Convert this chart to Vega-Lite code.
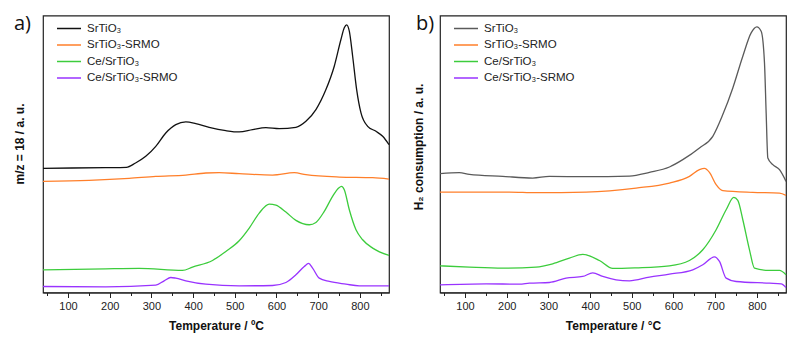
{
  "$schema": "https://vega.github.io/schema/vega-lite/v6.json",
  "background": "white",
  "padding": {"left": 12, "top": 12.5, "right": 0, "bottom": 0},
  "spacing": 18,
  "datasets": {
    "a": [
      {"T": 40, "v": 372, "series": "SrTiO₃"},
      {"T": 110, "v": 373, "series": "SrTiO₃"},
      {"T": 190, "v": 374, "series": "SrTiO₃"},
      {"T": 240, "v": 375, "series": "SrTiO₃"},
      {"T": 262, "v": 388, "series": "SrTiO₃"},
      {"T": 286.5, "v": 408, "series": "SrTiO₃"},
      {"T": 310.5, "v": 438, "series": "SrTiO₃"},
      {"T": 334.5, "v": 478, "series": "SrTiO₃"},
      {"T": 358.6, "v": 503, "series": "SrTiO₃"},
      {"T": 382.6, "v": 511, "series": "SrTiO₃"},
      {"T": 406.6, "v": 506, "series": "SrTiO₃"},
      {"T": 438.6, "v": 495, "series": "SrTiO₃"},
      {"T": 478.6, "v": 485, "series": "SrTiO₃"},
      {"T": 510.6, "v": 481, "series": "SrTiO₃"},
      {"T": 542.7, "v": 488, "series": "SrTiO₃"},
      {"T": 574.7, "v": 494, "series": "SrTiO₃"},
      {"T": 606.7, "v": 491, "series": "SrTiO₃"},
      {"T": 646.7, "v": 495, "series": "SrTiO₃"},
      {"T": 670.7, "v": 513, "series": "SrTiO₃"},
      {"T": 694.7, "v": 548, "series": "SrTiO₃"},
      {"T": 718.7, "v": 608, "series": "SrTiO₃"},
      {"T": 738.7, "v": 678, "series": "SrTiO₃"},
      {"T": 754.7, "v": 758, "series": "SrTiO₃"},
      {"T": 762.7, "v": 793, "series": "SrTiO₃"},
      {"T": 768.4, "v": 802, "series": "SrTiO₃"},
      {"T": 774.8, "v": 783, "series": "SrTiO₃"},
      {"T": 782.8, "v": 708, "series": "SrTiO₃"},
      {"T": 792.4, "v": 608, "series": "SrTiO₃"},
      {"T": 802.8, "v": 538, "series": "SrTiO₃"},
      {"T": 818.8, "v": 498, "series": "SrTiO₃"},
      {"T": 838.8, "v": 483, "series": "SrTiO₃"},
      {"T": 854.8, "v": 468, "series": "SrTiO₃"},
      {"T": 870, "v": 443, "series": "SrTiO₃"},
      {"T": 40, "v": 333, "series": "SrTiO₃-SRMO"},
      {"T": 150.5, "v": 336, "series": "SrTiO₃-SRMO"},
      {"T": 246.5, "v": 342, "series": "SrTiO₃-SRMO"},
      {"T": 310.5, "v": 348, "series": "SrTiO₃-SRMO"},
      {"T": 382.6, "v": 352, "series": "SrTiO₃-SRMO"},
      {"T": 430.6, "v": 358, "series": "SrTiO₃-SRMO"},
      {"T": 462.6, "v": 359, "series": "SrTiO₃-SRMO"},
      {"T": 510.6, "v": 356, "series": "SrTiO₃-SRMO"},
      {"T": 590.7, "v": 352, "series": "SrTiO₃-SRMO"},
      {"T": 642.7, "v": 359, "series": "SrTiO₃-SRMO"},
      {"T": 670.7, "v": 353, "series": "SrTiO₃-SRMO"},
      {"T": 750.8, "v": 346, "series": "SrTiO₃-SRMO"},
      {"T": 830.8, "v": 344, "series": "SrTiO₃-SRMO"},
      {"T": 870, "v": 340, "series": "SrTiO₃-SRMO"},
      {"T": 40, "v": 68, "series": "Ce/SrTiO₃"},
      {"T": 190.5, "v": 71, "series": "Ce/SrTiO₃"},
      {"T": 270.5, "v": 72, "series": "Ce/SrTiO₃"},
      {"T": 374.6, "v": 66, "series": "Ce/SrTiO₃"},
      {"T": 398.6, "v": 76, "series": "Ce/SrTiO₃"},
      {"T": 446.6, "v": 96, "series": "Ce/SrTiO₃"},
      {"T": 478.6, "v": 123, "series": "Ce/SrTiO₃"},
      {"T": 510.6, "v": 155, "series": "Ce/SrTiO₃"},
      {"T": 534.7, "v": 193, "series": "Ce/SrTiO₃"},
      {"T": 558.7, "v": 238, "series": "Ce/SrTiO₃"},
      {"T": 582.7, "v": 265, "series": "Ce/SrTiO₃"},
      {"T": 598.7, "v": 262, "series": "Ce/SrTiO₃"},
      {"T": 622.7, "v": 241, "series": "Ce/SrTiO₃"},
      {"T": 646.7, "v": 216, "series": "Ce/SrTiO₃"},
      {"T": 678.7, "v": 203, "series": "Ce/SrTiO₃"},
      {"T": 694.7, "v": 210, "series": "Ce/SrTiO₃"},
      {"T": 714.7, "v": 243, "series": "Ce/SrTiO₃"},
      {"T": 734.7, "v": 288, "series": "Ce/SrTiO₃"},
      {"T": 749.2, "v": 313, "series": "Ce/SrTiO₃"},
      {"T": 756.3, "v": 318, "series": "Ce/SrTiO₃"},
      {"T": 762.7, "v": 308, "series": "Ce/SrTiO₃"},
      {"T": 774.8, "v": 248, "series": "Ce/SrTiO₃"},
      {"T": 790.8, "v": 188, "series": "Ce/SrTiO₃"},
      {"T": 806.8, "v": 158, "series": "Ce/SrTiO₃"},
      {"T": 830.8, "v": 133, "series": "Ce/SrTiO₃"},
      {"T": 870, "v": 111, "series": "Ce/SrTiO₃"},
      {"T": 40, "v": 18, "series": "Ce/SrTiO₃-SRMO"},
      {"T": 190.5, "v": 17, "series": "Ce/SrTiO₃-SRMO"},
      {"T": 310.5, "v": 22, "series": "Ce/SrTiO₃-SRMO"},
      {"T": 330.6, "v": 35, "series": "Ce/SrTiO₃-SRMO"},
      {"T": 346.6, "v": 45, "series": "Ce/SrTiO₃-SRMO"},
      {"T": 358.6, "v": 43, "series": "Ce/SrTiO₃-SRMO"},
      {"T": 382.6, "v": 35, "series": "Ce/SrTiO₃-SRMO"},
      {"T": 430.6, "v": 25, "series": "Ce/SrTiO₃-SRMO"},
      {"T": 510.6, "v": 20, "series": "Ce/SrTiO₃-SRMO"},
      {"T": 590.7, "v": 21, "series": "Ce/SrTiO₃-SRMO"},
      {"T": 622.7, "v": 30, "series": "Ce/SrTiO₃-SRMO"},
      {"T": 646.7, "v": 53, "series": "Ce/SrTiO₃-SRMO"},
      {"T": 666.7, "v": 78, "series": "Ce/SrTiO₃-SRMO"},
      {"T": 677.1, "v": 87, "series": "Ce/SrTiO₃-SRMO"},
      {"T": 686.7, "v": 73, "series": "Ce/SrTiO₃-SRMO"},
      {"T": 702.7, "v": 43, "series": "Ce/SrTiO₃-SRMO"},
      {"T": 726.7, "v": 33, "series": "Ce/SrTiO₃-SRMO"},
      {"T": 766.7, "v": 25, "series": "Ce/SrTiO₃-SRMO"},
      {"T": 798.8, "v": 20, "series": "Ce/SrTiO₃-SRMO"},
      {"T": 870, "v": 20, "series": "Ce/SrTiO₃-SRMO"}
    ],
    "b": [
      {"T": 40, "v": 356, "series": "SrTiO₃"},
      {"T": 86.4, "v": 359, "series": "SrTiO₃"},
      {"T": 110.4, "v": 354, "series": "SrTiO₃"},
      {"T": 190.4, "v": 348, "series": "SrTiO₃"},
      {"T": 262.4, "v": 343, "series": "SrTiO₃"},
      {"T": 302.4, "v": 348, "series": "SrTiO₃"},
      {"T": 390.4, "v": 347, "series": "SrTiO₃"},
      {"T": 494.4, "v": 349, "series": "SrTiO₃"},
      {"T": 542.4, "v": 360, "series": "SrTiO₃"},
      {"T": 590.4, "v": 376, "series": "SrTiO₃"},
      {"T": 622.4, "v": 398, "series": "SrTiO₃"},
      {"T": 662.4, "v": 433, "series": "SrTiO₃"},
      {"T": 694.4, "v": 468, "series": "SrTiO₃"},
      {"T": 718.4, "v": 533, "series": "SrTiO₃"},
      {"T": 742.4, "v": 613, "series": "SrTiO₃"},
      {"T": 766.4, "v": 708, "series": "SrTiO₃"},
      {"T": 786.4, "v": 778, "series": "SrTiO₃"},
      {"T": 800, "v": 796, "series": "SrTiO₃"},
      {"T": 810.4, "v": 783, "series": "SrTiO₃"},
      {"T": 818.4, "v": 688, "series": "SrTiO₃"},
      {"T": 822.4, "v": 538, "series": "SrTiO₃"},
      {"T": 826.4, "v": 403, "series": "SrTiO₃"},
      {"T": 838.4, "v": 383, "series": "SrTiO₃"},
      {"T": 854.4, "v": 368, "series": "SrTiO₃"},
      {"T": 870, "v": 333, "series": "SrTiO₃"},
      {"T": 40, "v": 301, "series": "SrTiO₃-SRMO"},
      {"T": 206.4, "v": 301, "series": "SrTiO₃-SRMO"},
      {"T": 270.4, "v": 299, "series": "SrTiO₃-SRMO"},
      {"T": 390.4, "v": 301, "series": "SrTiO₃-SRMO"},
      {"T": 510.4, "v": 313, "series": "SrTiO₃-SRMO"},
      {"T": 590.4, "v": 328, "series": "SrTiO₃-SRMO"},
      {"T": 638.4, "v": 348, "series": "SrTiO₃-SRMO"},
      {"T": 662.4, "v": 368, "series": "SrTiO₃-SRMO"},
      {"T": 674.4, "v": 372, "series": "SrTiO₃-SRMO"},
      {"T": 686.4, "v": 360, "series": "SrTiO₃-SRMO"},
      {"T": 702.4, "v": 323, "series": "SrTiO₃-SRMO"},
      {"T": 718.4, "v": 305, "series": "SrTiO₃-SRMO"},
      {"T": 790.4, "v": 300, "series": "SrTiO₃-SRMO"},
      {"T": 854.4, "v": 298, "series": "SrTiO₃-SRMO"},
      {"T": 870, "v": 291, "series": "SrTiO₃-SRMO"},
      {"T": 40, "v": 80, "series": "Ce/SrTiO₃"},
      {"T": 110.4, "v": 76, "series": "Ce/SrTiO₃"},
      {"T": 190.4, "v": 73, "series": "Ce/SrTiO₃"},
      {"T": 270.4, "v": 76, "series": "Ce/SrTiO₃"},
      {"T": 310.4, "v": 86, "series": "Ce/SrTiO₃"},
      {"T": 350.4, "v": 103, "series": "Ce/SrTiO₃"},
      {"T": 382.4, "v": 114, "series": "Ce/SrTiO₃"},
      {"T": 422.4, "v": 96, "series": "Ce/SrTiO₃"},
      {"T": 454.4, "v": 72, "series": "Ce/SrTiO₃"},
      {"T": 510.4, "v": 74, "series": "Ce/SrTiO₃"},
      {"T": 590.4, "v": 80, "series": "Ce/SrTiO₃"},
      {"T": 638.4, "v": 96, "series": "Ce/SrTiO₃"},
      {"T": 670.4, "v": 128, "series": "Ce/SrTiO₃"},
      {"T": 702.4, "v": 188, "series": "Ce/SrTiO₃"},
      {"T": 726.4, "v": 248, "series": "Ce/SrTiO₃"},
      {"T": 744.8, "v": 285, "series": "Ce/SrTiO₃"},
      {"T": 754.4, "v": 276, "series": "Ce/SrTiO₃"},
      {"T": 766.4, "v": 218, "series": "Ce/SrTiO₃"},
      {"T": 782.4, "v": 128, "series": "Ce/SrTiO₃"},
      {"T": 794.4, "v": 73, "series": "Ce/SrTiO₃"},
      {"T": 830.4, "v": 66, "series": "Ce/SrTiO₃"},
      {"T": 854.4, "v": 66, "series": "Ce/SrTiO₃"},
      {"T": 870, "v": 53, "series": "Ce/SrTiO₃"},
      {"T": 40, "v": 23, "series": "Ce/SrTiO₃-SRMO"},
      {"T": 150.4, "v": 26, "series": "Ce/SrTiO₃-SRMO"},
      {"T": 230.4, "v": 25, "series": "Ce/SrTiO₃-SRMO"},
      {"T": 254.4, "v": 28, "series": "Ce/SrTiO₃-SRMO"},
      {"T": 302.4, "v": 30, "series": "Ce/SrTiO₃-SRMO"},
      {"T": 342.4, "v": 43, "series": "Ce/SrTiO₃-SRMO"},
      {"T": 382.4, "v": 48, "series": "Ce/SrTiO₃-SRMO"},
      {"T": 406.4, "v": 59, "series": "Ce/SrTiO₃-SRMO"},
      {"T": 430.4, "v": 48, "series": "Ce/SrTiO₃-SRMO"},
      {"T": 462.4, "v": 38, "series": "Ce/SrTiO₃-SRMO"},
      {"T": 494.4, "v": 35, "series": "Ce/SrTiO₃-SRMO"},
      {"T": 542.4, "v": 46, "series": "Ce/SrTiO₃-SRMO"},
      {"T": 590.4, "v": 55, "series": "Ce/SrTiO₃-SRMO"},
      {"T": 646.4, "v": 68, "series": "Ce/SrTiO₃-SRMO"},
      {"T": 670.4, "v": 83, "series": "Ce/SrTiO₃-SRMO"},
      {"T": 698.4, "v": 107, "series": "Ce/SrTiO₃-SRMO"},
      {"T": 710.4, "v": 93, "series": "Ce/SrTiO₃-SRMO"},
      {"T": 726.4, "v": 43, "series": "Ce/SrTiO₃-SRMO"},
      {"T": 750.4, "v": 33, "series": "Ce/SrTiO₃-SRMO"},
      {"T": 830.4, "v": 28, "series": "Ce/SrTiO₃-SRMO"},
      {"T": 858.4, "v": 26, "series": "Ce/SrTiO₃-SRMO"},
      {"T": 870, "v": 15, "series": "Ce/SrTiO₃-SRMO"}
    ]
  },
  "hconcat": [
    {
      "width": 346,
      "height": 277,
      "title": {"text": "a)", "anchor": "start", "frame": "bounds", "dy": 22, "dx": 1},
      "data": {"name": "a"},
      "mark": {"type": "line", "interpolate": "monotone", "strokeWidth": 1.3},
      "encoding": {
        "x": {
          "field": "T", "type": "quantitative",
          "scale": {"domain": [40, 870], "nice": false, "zero": false},
          "axis": {"title": "Temperature / ºC", "values": [50, 100, 150, 200, 250, 300, 350, 400, 450, 500, 550, 600, 650, 700, 750, 800, 850],
                   "labelExpr": "datum.value % 100 === 0 ? datum.label : ''",
                   "tickSize": {"condition": {"test": "datum.value % 100 === 0", "value": 5}, "value": 3}}
        },
        "y": {
          "field": "v", "type": "quantitative",
          "scale": {"domain": [0, 830], "nice": false},
          "axis": {"title": "m/z = 18 / a. u.", "labels": false, "ticks": false, "domain": false, "titlePadding": 17, "titleY": 128}
        },
        "color": {
          "field": "series", "type": "nominal",
          "scale": {"domain": ["SrTiO₃", "SrTiO₃-SRMO", "Ce/SrTiO₃", "Ce/SrTiO₃-SRMO"], "range": ["#111111", "#ff7f2a", "#3ccc3c", "#9933ff"]},
          "legend": {"title": null}
        }
      }
    },
    {
      "width": 346,
      "height": 277,
      "title": {"text": "b)", "anchor": "start", "frame": "bounds", "dy": 22, "dx": 4},
      "data": {"name": "b"},
      "mark": {"type": "line", "interpolate": "monotone", "strokeWidth": 1.3},
      "encoding": {
        "x": {
          "field": "T", "type": "quantitative",
          "scale": {"domain": [40, 870], "nice": false, "zero": false},
          "axis": {"title": "Temperature / °C", "values": [50, 100, 150, 200, 250, 300, 350, 400, 450, 500, 550, 600, 650, 700, 750, 800, 850],
                   "labelExpr": "datum.value % 100 === 0 ? datum.label : ''",
                   "tickSize": {"condition": {"test": "datum.value % 100 === 0", "value": 5}, "value": 3}}
        },
        "y": {
          "field": "v", "type": "quantitative",
          "scale": {"domain": [0, 830], "nice": false},
          "axis": {"title": "H₂ consumption / a. u.", "labels": false, "ticks": false, "domain": false, "titlePadding": 15, "titleY": 131}
        },
        "color": {
          "field": "series", "type": "nominal",
          "scale": {"domain": ["SrTiO₃", "SrTiO₃-SRMO", "Ce/SrTiO₃", "Ce/SrTiO₃-SRMO"], "range": ["#5a5a5a", "#ff7f2a", "#3ccc3c", "#9933ff"]},
          "legend": {"title": null}
        }
      }
    }
  ],
  "resolve": {"scale": {"color": "independent"}, "legend": {"color": "independent"}},
  "config": {
    "view": {"stroke": "#222222", "strokeWidth": 1.2},
    "axis": {"grid": false, "labelFont": "Liberation Sans", "titleFont": "Liberation Sans", "labelFontSize": 11, "titleFontSize": 12, "titleFontWeight": "bold", "labelColor": "#222222", "titleColor": "#111111", "domainColor": "#222222", "tickColor": "#222222", "domainWidth": 1.2, "labelPadding": 3, "titlePadding": 9},
    "legend": {"orient": "none", "legendX": 13, "legendY": 6, "symbolType": "M-1,0H3", "symbolSize": 144, "symbolStrokeWidth": 1.5, "labelFont": "Liberation Sans", "labelFontSize": 11.5, "labelColor": "#222222", "rowPadding": 3.5, "labelOffset": 17, "padding": 0},
    "title": {"font": "Open Sans", "fontSize": 20, "fontWeight": "normal", "color": "#111111", "offset": 0}
  }
}
